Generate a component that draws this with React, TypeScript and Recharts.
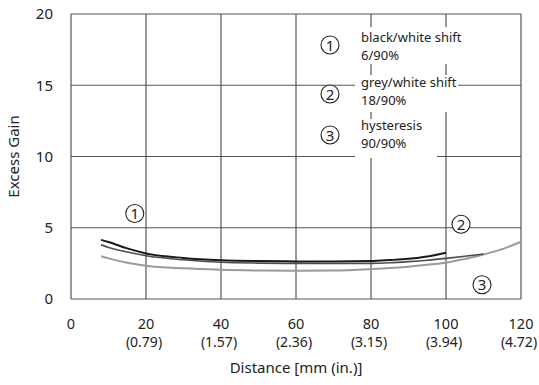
import React from 'react';
import {
  LineChart, Line, XAxis, YAxis, CartesianGrid, ReferenceDot, Customized,
} from 'recharts';

// distance in mm, excess gain per curve
const distances = [8, 10, 15, 20, 30, 40, 50, 60, 70, 80, 85, 90, 95, 100, 105, 110, 115, 120];
const blackWhite = [4.15, 4.0, 3.55, 3.2, 2.88, 2.72, 2.66, 2.64, 2.63, 2.66, 2.73, 2.82, 2.98, 3.25, null, null, null, null];
const greyWhite = [3.8, 3.62, 3.3, 3.04, 2.75, 2.58, 2.52, 2.5, 2.49, 2.5, 2.54, 2.62, 2.72, 2.85, 3.0, 3.16, null, null];
const hysteresis = [3.0, 2.85, 2.55, 2.34, 2.15, 2.05, 2.0, 1.98, 2.0, 2.1, 2.17, 2.27, 2.4, 2.55, 2.8, 3.12, 3.5, 4.02];

const xTicks = [0, 20, 40, 60, 80, 100, 120];
const inchLabels = ['', '(0.79)', '(1.57)', '(2.36)', '(3.15)', '(3.94)', '(4.72)'];
const yTicks = [0, 5, 10, 15, 20];

const legendItems = [
  { num: '1', title: 'black/white shift', sub: '6/90%' },
  { num: '2', title: 'grey/white shift', sub: '18/90%' },
  { num: '3', title: 'hysteresis', sub: '90/90%' },
];

const data = distances.map((d, i) => ({
  d,
  bw: blackWhite[i],
  gw: greyWhite[i],
  hy: hysteresis[i],
}));

const FONT = '"Noto Sans", sans-serif';
const TXT = '#222';

const XTick = (props: any) => {
  const { x, y, payload } = props;
  const idx = xTicks.indexOf(payload.value);
  return (
    <g transform={`translate(${x},${y})`}>
      <text x={0} y={0} dy={28} textAnchor="middle" fontSize={14.5} fill={TXT} fontFamily={FONT}>
        {payload.value}
      </text>
      <text x={-2} y={0} dy={46} textAnchor="middle" fontSize={14} fill={TXT} fontFamily={FONT}>
        {inchLabels[idx]}
      </text>
    </g>
  );
};

const NumMark = (num: string) => (props: any) => {
  const { cx, cy } = props;
  return (
    <g>
      <circle cx={cx} cy={cy} r={9} fill="#fff" stroke={TXT} strokeWidth={1.1} />
      <text x={cx} y={cy} dy={5.5} textAnchor="middle" fontSize={15} fill={TXT} fontFamily={FONT}>
        {num}
      </text>
    </g>
  );
};

// baselines of the two text lines and circle centre per entry
const titleY = [42, 87, 130];
const subY = [60, 105, 148];
const circY = [45, 94, 135];

const LegendBox = () => (
  <g>
    <rect x={355} y={27} width={137} height={37} fill="#fff" />
    <rect x={355} y={75} width={103} height={37} fill="#fff" />
    <rect x={355} y={119} width={82} height={39} fill="#fff" />
    {legendItems.map((it, i) => (
      <g key={it.num}>
        <circle cx={330} cy={circY[i]} r={9} fill="#fff" stroke={TXT} strokeWidth={1.1} />
        <text x={330} y={circY[i] + 5.5} textAnchor="middle" fontSize={15} fill={TXT} fontFamily={FONT}>
          {it.num}
        </text>
        <text x={361} y={titleY[i]} fontSize={13} fill={TXT} fontFamily={FONT}>{it.title}</text>
        <text x={361} y={subY[i]} fontSize={13} fill={TXT} fontFamily={FONT}>{it.sub}</text>
      </g>
    ))}
  </g>
);

export default function App() {
  return (
    <div style={{ position: 'absolute', left: 0, top: 0, background: '#fff' }}>
      <LineChart width={539} height={385} data={data} margin={{ top: 14, right: 18, bottom: 0, left: 10 }}>
        <CartesianGrid stroke="#555" strokeWidth={1.2} />
        <XAxis
          dataKey="d"
          type="number"
          domain={[0, 120]}
          ticks={xTicks}
          tickSize={0}
          axisLine={false}
          tick={<XTick />}
          height={86}
          label={{ value: 'Distance [mm (in.)]', position: 'insideBottom', offset: 12, fontSize: 15, fill: TXT, fontFamily: FONT }}
        />
        <YAxis
          type="number"
          domain={[0, 20]}
          ticks={yTicks}
          tickSize={0}
          tickMargin={18}
          axisLine={false}
          width={61}
          tick={{ fontSize: 15, fill: TXT, fontFamily: FONT }}
          label={{ value: 'Excess Gain', angle: -90, position: 'insideLeft', offset: 4, fontSize: 15, fill: TXT, fontFamily: FONT, style: { textAnchor: 'middle' } }}
        />
        <Line type="monotone" dataKey="hy" stroke="#9a9a9a" strokeWidth={2} dot={false} isAnimationActive={false} />
        <Line type="monotone" dataKey="gw" stroke="#4d4d4d" strokeWidth={1.6} dot={false} isAnimationActive={false} />
        <Line type="monotone" dataKey="bw" stroke="#1a1a1a" strokeWidth={2} dot={false} isAnimationActive={false} />
        <ReferenceDot x={17} y={6} shape={NumMark('1')} />
        <ReferenceDot x={104} y={5.25} shape={NumMark('2')} />
        <ReferenceDot x={109.6} y={1.0} shape={NumMark('3')} />
        <Customized component={<LegendBox />} />
      </LineChart>
    </div>
  );
}
